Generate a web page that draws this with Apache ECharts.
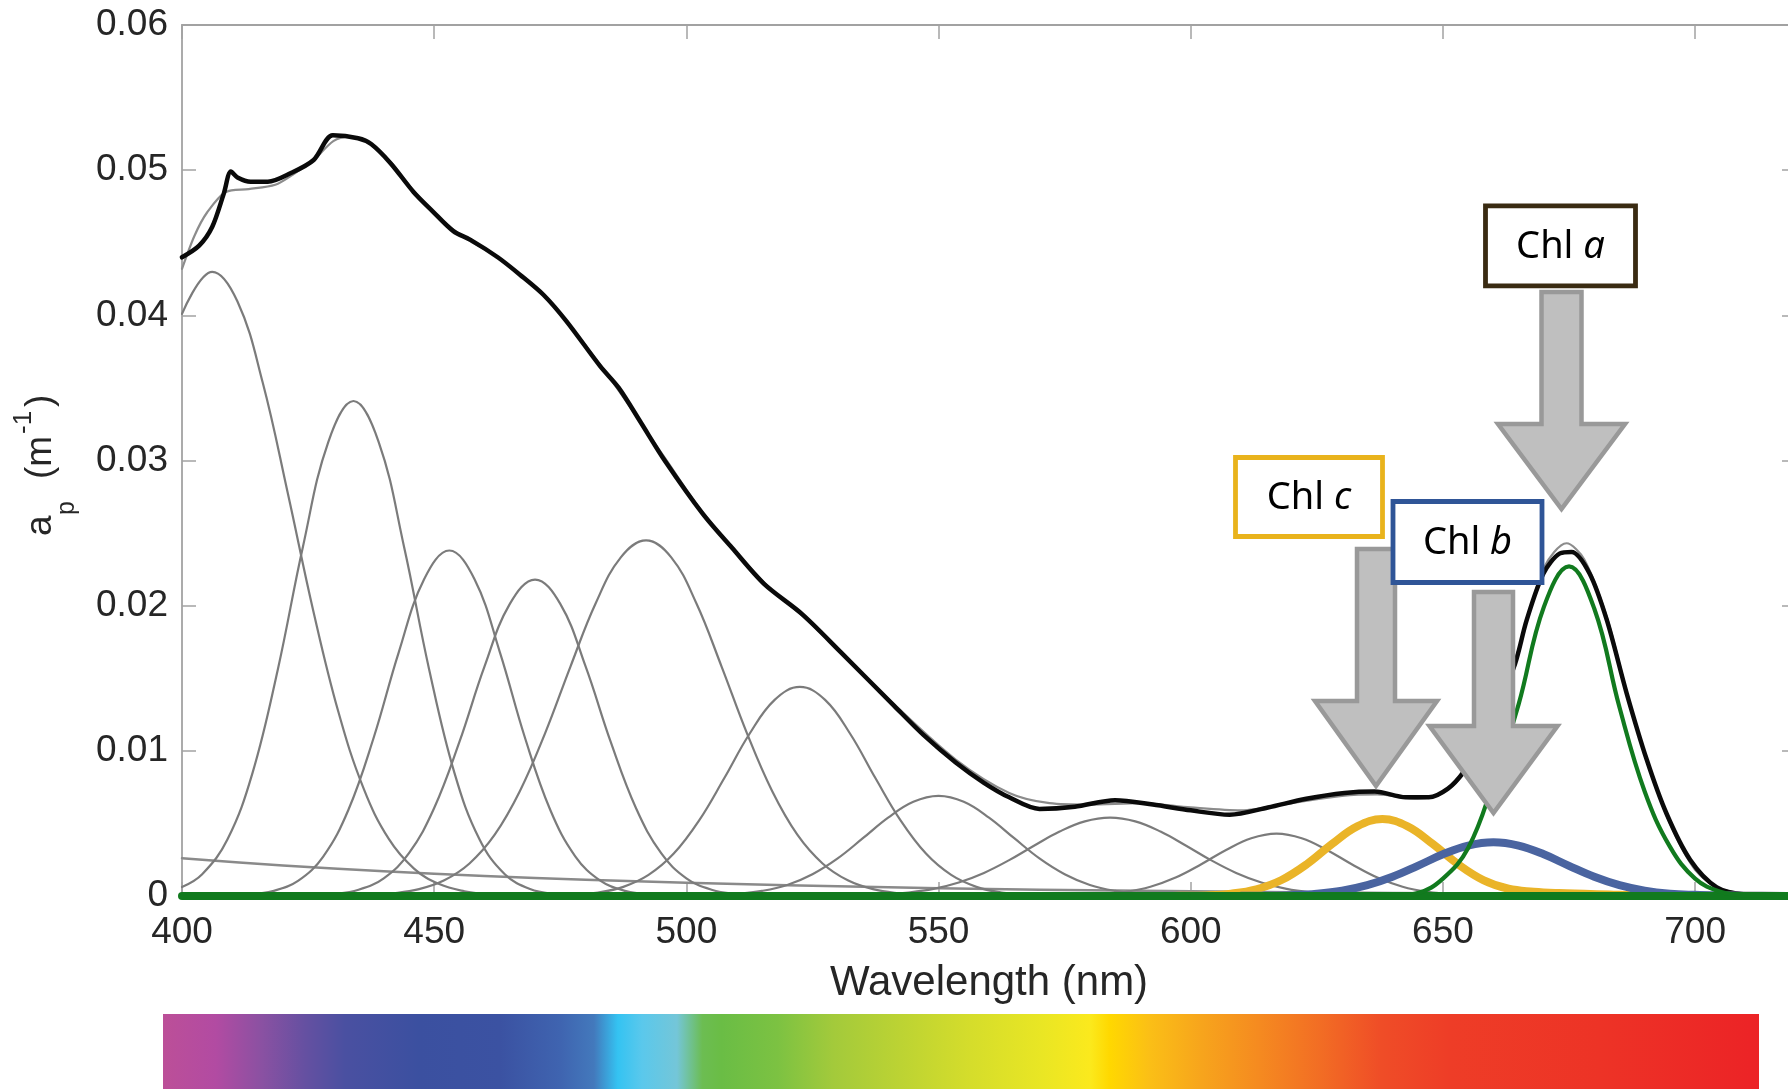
<!DOCTYPE html>
<html>
<head>
<meta charset="utf-8">
<title>Particulate absorption spectrum – Gaussian decomposition</title>
<script src="https://cdn.jsdelivr.net/npm/echarts@6/dist/echarts.min.js"></script>
<style>
  html, body { margin: 0; padding: 0; background: #ffffff; }
  #chart { width: 1788px; height: 1089px; }
</style>
</head>
<body>
<div id="chart"></div>
<script>
// ---- axis ranges -------------------------------------------------------
const wavelengthRange = [400, 720];
const wavelengthStep = 50;
const absorptionRange = [0, 0.06];
const absorptionStep = 0.01;

// ---- measured particulate absorption a_p (m^-1), [wavelength nm, value] --
const measuredSpectrum = [
  [400, 0.0440], [403.4, 0.0448], [406, 0.0461], [408.3, 0.0484], [409.7, 0.0499],
  [411, 0.0495], [413.6, 0.0492], [417, 0.0492], [421.6, 0.0498], [426.1, 0.0507],
  [429.9, 0.0524], [434.9, 0.0522], [437.5, 0.0518], [441.3, 0.0505], [445.9, 0.0485],
  [449.6, 0.0472], [453.8, 0.0458], [457.2, 0.0452], [462.6, 0.0440], [467, 0.0428],
  [471.7, 0.0414], [476.2, 0.0396], [482.9, 0.0365], [486.6, 0.0350], [491, 0.0326],
  [495.7, 0.0300], [503.3, 0.0263], [509, 0.0240], [515.4, 0.0215], [523, 0.0194],
  [530.6, 0.0168], [541.2, 0.0131], [547, 0.0111], [553.4, 0.0092], [559, 0.0078],
  [564, 0.0068], [570, 0.0060], [577, 0.00615], [585, 0.0066], [592.5, 0.0063],
  [600, 0.0059], [607.7, 0.0056], [615.3, 0.0061], [622.9, 0.0067], [630.5, 0.0071],
  [636.5, 0.0072], [642.6, 0.0068], [647.2, 0.0068], [651, 0.0074], [654, 0.0085],
  [657, 0.0102], [660, 0.0122], [664.3, 0.0160], [666.6, 0.0190], [669.9, 0.0222],
  [673.2, 0.0236], [675.5, 0.0237], [679.1, 0.0222], [682.5, 0.0190], [686.4, 0.0140],
  [690.4, 0.0094], [694.3, 0.0057], [699, 0.0025], [704.3, 0.0006], [710, 0.0001], [720, 0]
];

// ---- modelled spectrum (sum of components) ------------------------------
const fittedSpectrum = [
  [400, 0.0432], [402.5, 0.0455], [405, 0.0471], [408.7, 0.0485], [413.2, 0.0487],
  [418.5, 0.0490], [422, 0.0497], [426.1, 0.0507], [430, 0.0520], [433, 0.0523],
  [436, 0.0521], [441.3, 0.0506], [445.9, 0.0486], [449.6, 0.0472], [453.8, 0.0459],
  [457.2, 0.0451], [462.6, 0.0440], [471.7, 0.0414], [482.9, 0.0366], [495.7, 0.0302],
  [503.3, 0.0264], [515.4, 0.0216], [523, 0.0193], [530.6, 0.0168], [541.2, 0.0132],
  [553.4, 0.0094], [564, 0.0071], [572, 0.0064], [580, 0.0063], [590, 0.0064],
  [600, 0.0061], [610, 0.0059], [620, 0.0064], [630, 0.0069], [637, 0.0070],
  [645, 0.0067], [650, 0.0071], [655, 0.0088], [660, 0.0122], [665, 0.0170],
  [670, 0.0226], [674.5, 0.0243], [678, 0.0232], [682.5, 0.0192], [686.4, 0.0141],
  [690.4, 0.0093], [695, 0.0050], [700, 0.0018], [705, 0.0005], [712, 0.0001], [720, 0]
];

// ---- non-algal background ----------------------------------------------
const nonAlgalBackground = [
  [400, 0.0026], [420, 0.0021], [440, 0.0017], [460, 0.00138], [480, 0.00112],
  [500, 0.00091], [520, 0.00074], [540, 0.0006], [560, 0.00048], [580, 0.00039],
  [600, 0.00032], [620, 0.00026], [640, 0.00021], [660, 0.00017], [680, 0.00014],
  [700, 0.00011], [720, 0.00009]
];

// ---- accessory pigment Gaussian bands (5 nm steps around each maximum) ---
const band406 = [
  [400, 0.0401], [406, 0.0430], [411, 0.04095], [416, 0.03537], [421, 0.02771],
  [426, 0.01969], [431, 0.01269], [436, 0.00741], [441, 0.00393], [446, 0.00189],
  [451, 0.00082], [456, 0.00033], [461, 0.00012], [466, 0.00004], [471, 0.00001]
];
const band434 = [
  [400, 0.00062], [404, 0.0015], [409, 0.00389], [414, 0.0085], [419, 0.01561],
  [424, 0.0241], [429, 0.03127], [434, 0.0341], [439, 0.03127], [444, 0.0241],
  [449, 0.01561], [454, 0.0085], [459, 0.00389], [464, 0.0015], [469, 0.00048],
  [474, 0.00013], [479, 0.00003]
];
const band453 = [
  [408, 0.00002], [413, 0.00009], [418, 0.00034], [423, 0.00104], [428, 0.00272],
  [433, 0.00594], [438, 0.0109], [443, 0.01682], [448, 0.02182], [453, 0.0238],
  [458, 0.02182], [463, 0.01682], [468, 0.0109], [473, 0.00594], [478, 0.00272],
  [483, 0.00104], [488, 0.00034], [493, 0.00009], [498, 0.00002]
];
const band470 = [
  [425, 0.00003], [430, 0.00013], [435, 0.00043], [440, 0.00122], [445, 0.00295],
  [450, 0.00606], [455, 0.01061], [460, 0.01583], [465, 0.02012], [470, 0.0218],
  [475, 0.02012], [480, 0.01583], [485, 0.01061], [490, 0.00606], [495, 0.00295],
  [500, 0.00122], [505, 0.00043], [510, 0.00013], [515, 0.00003]
];
const band492 = [
  [432, 0.00002], [437, 0.00007], [442, 0.00019], [447, 0.00047], [452, 0.00108],
  [457, 0.00224], [462, 0.00422], [467, 0.00723], [472, 0.01122], [477, 0.01579],
  [482, 0.02015], [487, 0.02333], [492, 0.0245], [497, 0.02333], [502, 0.02015],
  [507, 0.01579], [512, 0.01122], [517, 0.00723], [522, 0.00422], [527, 0.00224],
  [532, 0.00108], [537, 0.00047], [542, 0.00019], [547, 0.00007], [552, 0.00002]
];
const band522 = [
  [472.5, 0.00002], [477.5, 0.00008], [482.5, 0.00024], [487.5, 0.00063], [492.5, 0.00145],
  [497.5, 0.00292], [502.5, 0.00519], [507.5, 0.00811], [512.5, 0.01116], [517.5, 0.01351],
  [522.5, 0.0144], [527.5, 0.01351], [532.5, 0.01116], [537.5, 0.00811], [542.5, 0.00519],
  [547.5, 0.00292], [552.5, 0.00145], [557.5, 0.00063], [562.5, 0.00024], [567.5, 0.00008],
  [572.5, 0.00002]
];
const band550 = [
  [500, 0.00002], [505, 0.00005], [510, 0.00014], [515, 0.00035], [520, 0.00076],
  [525, 0.0015], [530, 0.00259], [535, 0.00398], [540, 0.0054], [545, 0.00649],
  [550, 0.0069], [555, 0.00649], [560, 0.0054], [565, 0.00398], [570, 0.00259],
  [575, 0.0015], [580, 0.00076], [585, 0.00035], [590, 0.00014], [595, 0.00005], [600, 0.00002]
];
const band584 = [
  [529, 0.00001], [534, 0.00004], [539, 0.0001], [544, 0.00024], [549, 0.00049],
  [554, 0.00093], [559, 0.00159], [564, 0.00247], [569, 0.00348], [574, 0.00444],
  [579, 0.00514], [584, 0.0054], [589, 0.00514], [594, 0.00444], [599, 0.00348],
  [604, 0.00247], [609, 0.00159], [614, 0.00093], [619, 0.00049], [624, 0.00024],
  [629, 0.0001], [634, 0.00004], [639, 0.00001]
];
const band617 = [
  [572, 0.00001], [577, 0.00003], [582, 0.0001], [587, 0.00028], [592, 0.00064],
  [597, 0.00127], [602, 0.00217], [607, 0.00317], [612, 0.00398], [617, 0.0043],
  [622, 0.00398], [627, 0.00317], [632, 0.00217], [637, 0.00127], [642, 0.00064],
  [647, 0.00028], [652, 0.0001], [657, 0.00003], [662, 0.00001]
];

// ---- chlorophyll bands ---------------------------------------------------
const chlCBand = [
  [593, 0], [598, 0.00001], [603, 0.00004], [608, 0.00016], [613, 0.00046],
  [618, 0.0011], [623, 0.00219], [628, 0.00358], [633, 0.0048], [638, 0.0053],
  [643, 0.0048], [648, 0.00358], [653, 0.00219], [658, 0.0011], [663, 0.0005],
  [668, 0.0003], [673, 0.0002], [678, 0.00015], [683, 0.0001], [688, 0.00005],
  [698, 0.00002], [718, 0]
];
const chlBBand = [
  [610, 0.00001], [615, 0.00002], [620, 0.00006], [625, 0.00016], [630, 0.00037],
  [635, 0.00075], [640, 0.00133], [645, 0.00208], [650, 0.00287], [655, 0.00347],
  [660, 0.0037], [665, 0.00347], [670, 0.00287], [675, 0.00208], [680, 0.00133],
  [685, 0.00075], [690, 0.00037], [695, 0.00016], [700, 0.00008], [705, 0.00004],
  [710, 0.00002], [720, 0]
];
const chlABand = [
  [600, 0], [630, 0.00001], [640, 0.00003], [645, 0.0002], [650, 0.0012],
  [655, 0.0033], [660, 0.0078], [665, 0.0132], [670, 0.0199], [675, 0.0227],
  [680, 0.0198], [685, 0.0130], [690, 0.0072], [695, 0.0034], [700, 0.0012],
  [705, 0.0003], [710, 0.00005], [720, 0]
];
const chlABaseline = [[400, 0], [720, 0]];

// ---- visible spectrum strip under the axis ------------------------------
const spectrumOffsets = [
  0, 0.033, 0.062, 0.089, 0.114, 0.161, 0.211, 0.249, 0.270, 0.285, 0.300, 0.322,
  0.338, 0.350, 0.385, 0.420, 0.462, 0.506, 0.550, 0.581, 0.593, 0.618, 0.650,
  0.687, 0.725, 0.763, 0.806, 0.900, 1
];
const spectrumColors = [
  '#bc4f98', '#b24ba2', '#8a51a2', '#6550a1', '#4a50a1', '#3b50a0', '#3b52a2', '#3f64b0',
  '#4379bc', '#34c3f2', '#5ac8ec', '#74c6d8', '#6cbd52', '#6abd45', '#7cc242', '#a3ca3b',
  '#bcd333', '#d5dd2b', '#e9e624', '#fbe91d', '#ffd800', '#fbbf16', '#f7a51c', '#f58a20',
  '#f26d24', '#ef4d27', '#ee3d27', '#ed3326', '#ec2326'
];

// ---- styling ------------------------------------------------------------
const AXIS_GRAY = '#a2a2a2';
const TEXT_DARK = '#262626';
const BAND_GRAY = '#7b7b7b';
const SANS = '"Liberation Sans", Arial, Helvetica, sans-serif';
const LABEL_FONT = '"Noto Sans", "Open Sans", sans-serif';

function lineSeries(name, data, color, width, smooth) {
  return {
    name: name,
    type: 'line',
    data: data,
    showSymbol: false,
    symbol: 'none',
    smooth: smooth === undefined ? 0.4 : smooth,
    clip: false,
    silent: true,
    lineStyle: { color: color, width: width, cap: 'round', join: 'round' }
  };
}

const grayBands = [band406, band434, band453, band470, band492, band522, band550, band584, band617];

const series = [];
series.push(lineSeries('background', nonAlgalBackground, '#8a8a8a', 2.5, 0.3));
grayBands.forEach(function (b, i) {
  series.push(lineSeries('band' + i, b, BAND_GRAY, 2.2));
});
series.push(lineSeries('fit', fittedSpectrum, '#8c8c8c', 2.2, 0.3));
series.push(lineSeries('measured', measuredSpectrum, '#0a0a0a', 4.5, 0.3));
series.push(lineSeries('Chl c', chlCBand, '#eab428', 8));
series.push(lineSeries('Chl b', chlBBand, '#4a64a0', 8));
series.push(lineSeries('Chl a baseline', chlABaseline, '#117a1e', 8, false));
series.push(lineSeries('Chl a', chlABand, '#117a1e', 4.2));

// ---- annotation helpers --------------------------------------------------
function arrowPoints(cx, shaftHalf, headHalf, top, headTop, tip) {
  return [
    [cx - shaftHalf, top], [cx + shaftHalf, top], [cx + shaftHalf, headTop],
    [cx + headHalf, headTop], [cx, tip], [cx - headHalf, headTop], [cx - shaftHalf, headTop]
  ];
}
function arrow(points, z) {
  return {
    type: 'polygon', z: z, silent: true,
    shape: { points: points },
    style: { fill: '#bfbfbf', stroke: '#999999', lineWidth: 4.5, lineJoin: 'miter', miterLimit: 10 }
  };
}
function labelBox(x, y, w, h, color, letter, z) {
  return [
    {
      type: 'rect', z: z, silent: true,
      shape: { x: x, y: y, width: w, height: h },
      style: { fill: '#ffffff', stroke: color, lineWidth: 4.8 }
    },
    {
      type: 'text', z: z, z2: 5, silent: true,
      x: x + w / 2, y: y + h / 2 + 1,
      style: {
        text: '{n|Chl }{i|' + letter + '}',
        align: 'center', verticalAlign: 'middle',
        rich: {
          n: { fontFamily: LABEL_FONT, fontSize: 38, fill: '#000000', color: '#000000' },
          i: { fontFamily: LABEL_FONT, fontSize: 38, fontStyle: 'italic', fill: '#000000', color: '#000000' }
        }
      }
    }
  ];
}

const ylabelParts = [
  { text: 'a', x: -74, y: -11, size: 37 },
  { text: 'p', x: -53, y: 15, size: 25 },
  { text: '(m', x: -17, y: -11, size: 37 },
  { text: '-1', x: 28, y: -28, size: 26 },
  { text: ')', x: 55, y: -11, size: 37 }
];

const graphics = [];
// spectrum strip
graphics.push({
  type: 'rect', silent: true, z: 1,
  shape: { x: 163, y: 1014, width: 1596, height: 75 },
  style: {
    fill: {
      type: 'linear', x: 0, y: 0, x2: 1, y2: 0,
      colorStops: spectrumOffsets.map(function (o, i) { return { offset: o, color: spectrumColors[i] }; })
    }
  }
});
// y-axis title (rotated, with sub/superscripts)
graphics.push({
  type: 'group', x: 52, y: 462, rotation: Math.PI / 2, silent: true,
  children: ylabelParts.map(function (p) {
    return {
      type: 'text', x: p.x, y: p.y,
      style: {
        text: p.text, fontFamily: SANS, fontSize: p.size, fill: TEXT_DARK,
        align: 'left', verticalAlign: 'middle'
      }
    };
  })
});
// pigment call-outs
labelBox(1235.5, 457.5, 147, 79, '#e9b31c', 'c', 100).forEach(function (g) { graphics.push(g); });
graphics.push(arrow(arrowPoints(1376, 19, 61, 549, 701, 786), 101));
labelBox(1393, 501.5, 149, 81, '#2f5597', 'b', 102).forEach(function (g) { graphics.push(g); });
graphics.push(arrow(arrowPoints(1493.5, 19.5, 64, 592, 726, 813), 103));
graphics.push(arrow(arrowPoints(1561.5, 20, 63.5, 292, 424, 509), 104));
labelBox(1485.5, 205.8, 150, 80, '#3a2b12', 'a', 105).forEach(function (g) { graphics.push(g); });

// ---- axes ---------------------------------------------------------------
function xAxisCfg(position, showLabels) {
  return {
    type: 'value', position: position,
    min: wavelengthRange[0], max: wavelengthRange[1], interval: wavelengthStep,
    name: showLabels ? 'Wavelength (nm)' : '',
    nameLocation: 'middle', nameGap: 66,
    nameTextStyle: { fontFamily: SANS, fontSize: 42, color: TEXT_DARK },
    axisLine: { show: true, onZero: false, lineStyle: { color: AXIS_GRAY, width: 1.8 } },
    axisTick: { show: true, inside: true, length: 14, lineStyle: { color: AXIS_GRAY, width: 1.5 } },
    axisLabel: {
      show: showLabels, margin: 18, showMaxLabel: false,
      fontFamily: SANS, fontSize: 37, color: TEXT_DARK
    },
    splitLine: { show: false }
  };
}
function yAxisCfg(position, showLabels) {
  return {
    type: 'value', position: position,
    min: absorptionRange[0], max: absorptionRange[1], interval: absorptionStep,
    axisLine: { show: true, onZero: false, lineStyle: { color: AXIS_GRAY, width: 1.8 } },
    axisTick: { show: true, inside: true, length: 14, lineStyle: { color: AXIS_GRAY, width: 1.5 } },
    axisLabel: { show: showLabels, margin: 14, fontFamily: SANS, fontSize: 37, color: TEXT_DARK },
    splitLine: { show: false }
  };
}

const chart = echarts.init(document.getElementById('chart'), null, { renderer: 'canvas' });
chart.setOption({
  animation: false,
  backgroundColor: '#ffffff',
  grid: { left: 182, right: -8, top: 25, bottom: 193, containLabel: false, outerBoundsMode: 'none' },
  xAxis: [xAxisCfg('bottom', true), xAxisCfg('top', false)],
  yAxis: [yAxisCfg('left', true), yAxisCfg('right', false)],
  series: series,
  graphic: graphics
});
</script>
</body>
</html>
